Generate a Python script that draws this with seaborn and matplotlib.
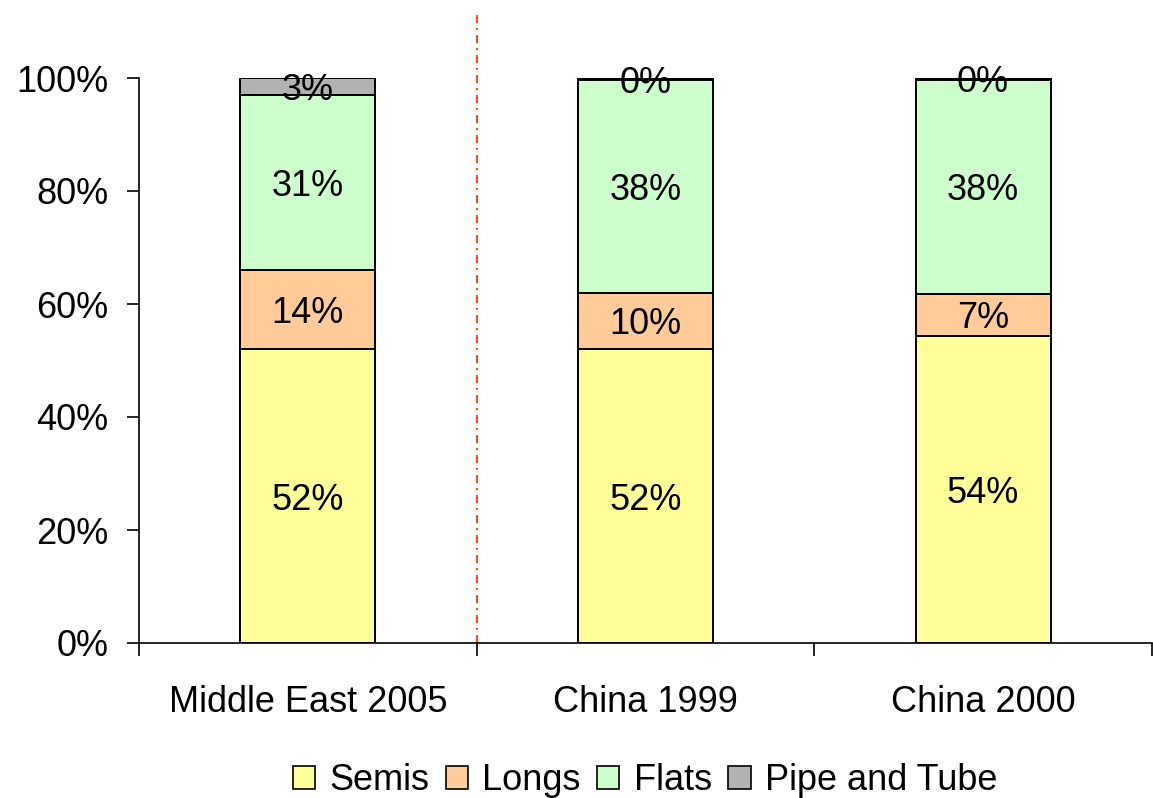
import matplotlib
matplotlib.use("Agg")
import matplotlib.pyplot as plt
import matplotlib.patches as mpatches
from matplotlib.ticker import FixedLocator
import numpy as np
import pandas as pd
import seaborn as sns

# Product mix shares (percent of total)
categories = ["Middle East 2005", "China 1999", "China 2000"]
series_names = ["Semis", "Longs", "Flats", "Pipe and Tube"]
semis = [52.0, 52.0, 54.4]
longs = [14.0, 10.0, 7.4]
flats = [31.0, 37.6, 37.9]
pipe_tube = [3.0, 0.4, 0.3]
yticks = [0, 20, 40, 60, 80, 100]
ytick_labels = ["0%", "20%", "40%", "60%", "80%", "100%"]

colors = {"Semis": "#FFFF99", "Longs": "#FFCC99", "Flats": "#CCFFCC", "Pipe and Tube": "#B2B2B2"}

sns.set_theme(style="white")
plt.rcParams["font.family"] = ["Liberation Sans", "DejaVu Sans"]
plt.rcParams["text.color"] = "black"
plt.rcParams["xtick.color"] = "black"
plt.rcParams["ytick.color"] = "black"

df = pd.DataFrame({"category": categories, "Semis": semis, "Longs": longs,
                   "Flats": flats, "Pipe and Tube": pipe_tube})
cum = df[series_names].cumsum(axis=1)

fig = plt.figure(figsize=(11.53, 7.98), dpi=100)
ax = fig.add_axes([139 / 1153, 155 / 798, 1 - 139 / 1153 - 0.001, 565 / 798])

# Stacked bars: draw cumulative totals from the top series down
for name in reversed(series_names):
    sns.barplot(x=df["category"], y=cum[name] / 100.0, ax=ax, color=colors[name],
                width=0.4, edgecolor="black", linewidth=1.4, saturation=1, zorder=2)

# Segment labels
fs = 26
for i in range(len(categories)):
    base = 0.0
    for name in series_names:
        v = df.loc[i, name]
        ax.text(i, (base + v / 2) / 100.0, f"{v:.0f}%", ha="center", va="center_baseline",
                fontsize=fs, color="black", zorder=5)
        base += v

ax.set_xlim(-0.5, 2.5)
ax.set_ylim(0, 1)
ax.set_yticks([t / 100 for t in yticks])
ax.set_yticklabels(ytick_labels, fontsize=fs)
ax.set_xlabel("")
ax.set_ylabel("")
ax.tick_params(axis="x", which="major", length=0, labelsize=fs, pad=30)
ax.xaxis.set_minor_locator(FixedLocator([-0.5, 0.5, 1.5, 2.5]))
ax.tick_params(axis="x", which="minor", length=9, width=1.2, color="black", direction="out", bottom=True)
ax.tick_params(axis="y", which="major", length=9, width=1.2, color="black", direction="out", left=True, pad=13)

for s in ["top", "right"]:
    ax.spines[s].set_visible(False)
for s in ["left", "bottom"]:
    ax.spines[s].set_color("black")
    ax.spines[s].set_linewidth(1.2)

# Divider between regions (dash-dot)
ax.plot([0.5, 0.5], [0, 1.117], color="#FF4D1A", linestyle=(0, (3.8, 2.4, 1.0, 2.4)),
        linewidth=1.5, clip_on=False, zorder=1)

handles = [mpatches.Patch(facecolor=colors[n], edgecolor="black", linewidth=1.2, label=n)
           for n in series_names]
fig.legend(handles=handles, loc="center", bbox_to_anchor=(645 / 1153, 17 / 798), ncol=4,
           frameon=False, fontsize=fs, handlelength=0.62, handleheight=0.62,
           handletextpad=0.4, columnspacing=0.45, borderaxespad=0)

fig.savefig("out.png", dpi=100)
